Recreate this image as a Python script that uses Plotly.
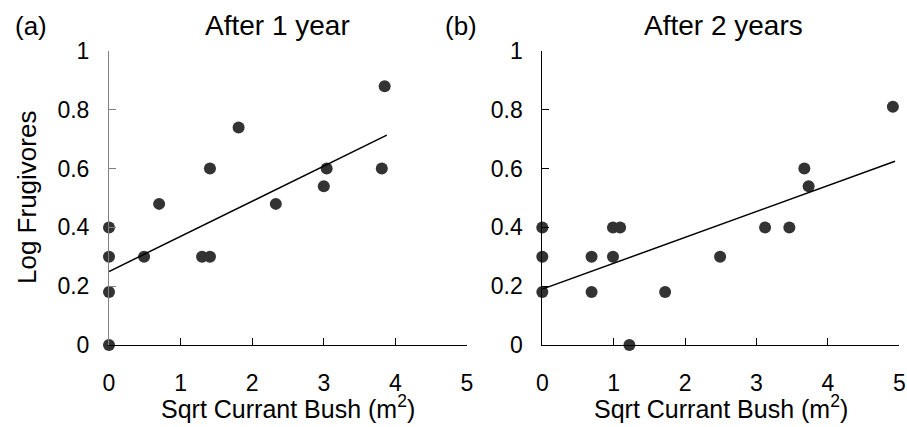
import plotly.graph_objects as go

# Panel (a): After 1 year
year1_x = [0, 0, 0, 0, 0.49, 0.70, 1.30, 1.41, 1.41, 1.81, 2.33, 3.00, 3.04, 3.81, 3.85]
year1_y = [0.0, 0.18, 0.30, 0.40, 0.30, 0.48, 0.30, 0.30, 0.60, 0.74, 0.48, 0.54, 0.60, 0.60, 0.88]
fit1_x = [0, 3.88]
fit1_y = [0.25, 0.714]

# Panel (b): After 2 years
year2_x = [0, 0, 0, 0.69, 0.69, 0.99, 1.09, 0.99, 1.22, 1.72, 2.49, 3.12, 3.46, 3.67, 3.73, 4.91]
year2_y = [0.40, 0.30, 0.18, 0.30, 0.18, 0.40, 0.40, 0.30, 0.0, 0.18, 0.30, 0.40, 0.40, 0.60, 0.54, 0.81]
fit2_x = [0, 4.94]
fit2_y = [0.19, 0.625]

panel_titles = ["After 1 year", "After 2 years"]
panel_labels = ["(a)", "(b)"]
x_title = "Sqrt Currant Bush (m<sup>2</sup>)"
y_title = "Log Frugivores"

W, H = 907, 427
FONT = "Arial, Liberation Sans, sans-serif"
DOT = "#333333"

def px_x(p):
    return p / W

def px_y(p):
    return (H - p) / H

fig = go.Figure()

fig.add_trace(go.Scatter(x=year1_x, y=year1_y, mode="markers", xaxis="x", yaxis="y",
                         marker=dict(size=12, color=DOT), cliponaxis=False, showlegend=False))
fig.add_trace(go.Scatter(x=fit1_x, y=fit1_y, mode="lines", xaxis="x", yaxis="y",
                         line=dict(color="black", width=1.5), cliponaxis=False, showlegend=False))
fig.add_trace(go.Scatter(x=year2_x, y=year2_y, mode="markers", xaxis="x2", yaxis="y2",
                         marker=dict(size=12, color=DOT), cliponaxis=False, showlegend=False))
fig.add_trace(go.Scatter(x=fit2_x, y=fit2_y, mode="lines", xaxis="x2", yaxis="y2",
                         line=dict(color="black", width=1.5), cliponaxis=False, showlegend=False))

ydom = [px_y(345), px_y(51)]

common_x = dict(range=[0, 5], dtick=1, tick0=0, showgrid=False, zeroline=False,
                showline=True, linecolor="black", linewidth=1, automargin=False,
                ticks="inside", ticklen=7, tickcolor="black", tickwidth=1,
                tickfont=dict(size=23, color="black", family=FONT),
                ticklabelstandoff=17)
common_y = dict(range=[0, 1], dtick=0.2, tick0=0, showgrid=False, zeroline=False,
                showline=True, linewidth=1, automargin=False,
                ticks="inside", ticklen=7, tickwidth=1,
                tickfont=dict(size=23, color="black", family=FONT),
                ticklabelstandoff=14, domain=ydom)

fig.update_layout(
    template="none",
    width=W, height=H,
    margin=dict(l=0, r=0, t=0, b=0, autoexpand=False),
    paper_bgcolor="white", plot_bgcolor="white",
    font=dict(family=FONT, color="black"),
    xaxis=dict(domain=[px_x(109), px_x(467)], anchor="y", **common_x),
    yaxis=dict(anchor="x", linecolor="#808080", tickcolor="#808080", **common_y),
    xaxis2=dict(domain=[px_x(542.3), px_x(899.3)], anchor="y2", **common_x),
    yaxis2=dict(anchor="x2", linecolor="black", tickcolor="black", **common_y),
)

ann = []
for cx, t in zip([277, 723], panel_titles):
    ann.append(dict(text=t, x=px_x(cx), y=px_y(26), xref="paper", yref="paper",
                    xanchor="center", yanchor="middle", showarrow=False,
                    font=dict(size=28, family=FONT, color="black")))
for cx, t in zip([31, 461], panel_labels):
    ann.append(dict(text=t, x=px_x(cx), y=px_y(26), xref="paper", yref="paper",
                    xanchor="center", yanchor="middle", showarrow=False,
                    font=dict(size=26, family=FONT, color="black")))
for cx in [288, 720.8]:
    ann.append(dict(text=x_title, x=px_x(cx), y=px_y(407), xref="paper", yref="paper",
                    xanchor="center", yanchor="middle", showarrow=False,
                    font=dict(size=25, family=FONT, color="black")))
ann.append(dict(text=y_title, x=px_x(27), y=px_y(198), xref="paper", yref="paper",
                xanchor="center", yanchor="middle", showarrow=False, textangle=-90,
                font=dict(size=26, family=FONT, color="black")))
fig.update_layout(annotations=ann)

fig.write_html("out.html")
